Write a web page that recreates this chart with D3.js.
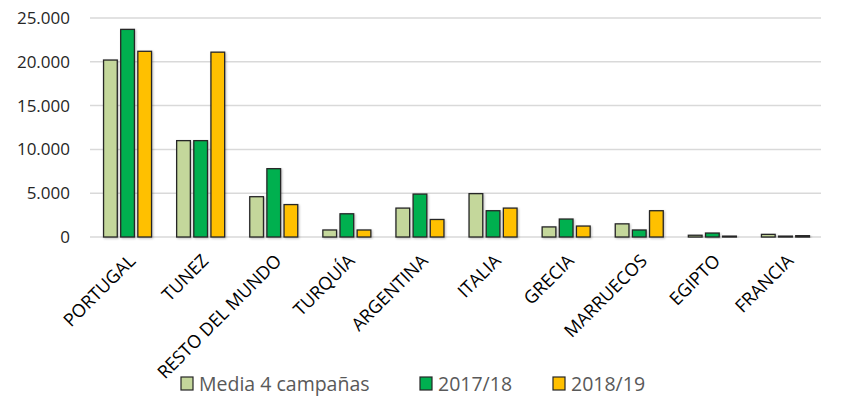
<!DOCTYPE html>
<html>
<head>
<meta charset="utf-8">
<script src="https://cdn.jsdelivr.net/npm/d3@7"></script>
<style>
  body { margin: 0; background: #fff; }
  text { font-family: "Open Sans", sans-serif; }
</style>
</head>
<body>
<script>
// data
var paises = ["PORTUGAL", "TUNEZ", "RESTO DEL MUNDO", "TURQUÍA", "ARGENTINA",
              "ITALIA", "GRECIA", "MARRUECOS", "EGIPTO", "FRANCIA"];
var media4 = [20200, 11000, 4600, 800, 3300, 4950, 1150, 1500, 200, 300];
var c1718  = [23700, 11000, 7800, 2650, 4900, 3000, 2050, 800, 450, 100];
var c1819  = [21200, 21100, 3700, 800, 2000, 3300, 1250, 3000, 100, 150];
var series = ["Media 4 campañas", "2017/18", "2018/19"];
var colores = ["#c4d79b", "#00b050", "#ffc000"];
var yTicks = [0, 5000, 10000, 15000, 20000, 25000];

var width = 847, height = 404;
var margin = {top: 18, right: 26, bottom: 167, left: 90};

var svg = d3.select("body").append("svg")
    .attr("width", width)
    .attr("height", height);

// soft shadow for the bars
var defs = svg.append("defs");
var f = defs.append("filter").attr("id", "sombra")
    .attr("x", "-20%").attr("y", "-20%").attr("width", "150%").attr("height", "150%");
f.append("feDropShadow").attr("dx", 1).attr("dy", 1).attr("stdDeviation", 0.8)
    .attr("flood-color", "#000").attr("flood-opacity", 0.25);

var g = svg.append("g")
    .attr("transform", "translate(" + margin.left + "," + margin.top + ")");

var w = width - margin.left - margin.right,
    h = height - margin.top - margin.bottom;

var x = d3.scaleBand().domain(paises).range([0, w]).paddingInner(0).paddingOuter(0);
var xs = d3.scaleBand().domain(series).range([x.bandwidth() / 2 - 23, x.bandwidth() / 2 + 25]).paddingInner(0.2);
var y = d3.scaleLinear().domain([0, 25000]).range([h, 0]);

// gridlines
g.selectAll(".grid").data(yTicks).enter().append("line")
    .attr("x1", 0).attr("x2", w)
    .attr("y1", function(d) { return y(d); })
    .attr("y2", function(d) { return y(d); })
    .attr("stroke", "#d9d9d9").attr("stroke-width", 1.5);

// y axis labels
var yAxis = d3.axisLeft(y).tickValues(yTicks).tickSize(0).tickPadding(20)
    .tickFormat(function(d) { return d3.format(",")(d).replace(/,/g, "."); });
g.append("g").call(yAxis)
    .call(function(s) { s.select(".domain").remove(); })
    .selectAll("text")
    .attr("font-family", "'Open Sans', sans-serif")
    .attr("font-size", 17)
    .attr("fill", "#262626");

// bars
var filas = paises.map(function(p, i) {
  return {pais: p, vals: [media4[i], c1718[i], c1819[i]]};
});
var grupos = g.selectAll(".grupo").data(filas).enter().append("g")
    .attr("transform", function(d) { return "translate(" + x(d.pais) + ",0)"; });
grupos.selectAll("rect").data(function(d) {
    return d.vals.map(function(v, j) { return {s: series[j], v: v, j: j}; });
  }).enter().append("rect")
    .attr("x", function(d) { return xs(d.s); })
    .attr("width", xs.bandwidth())
    .attr("y", function(d) { return y(d.v); })
    .attr("height", function(d) { return h - y(d.v); })
    .attr("fill", function(d) { return colores[d.j]; })
    .attr("stroke", "#262626").attr("stroke-width", 1.3)
    .attr("filter", "url(#sombra)");

// x labels
var xAxis = d3.axisBottom(x).tickSize(0).tickPadding(0);
g.append("g").attr("transform", "translate(0," + h + ")").call(xAxis)
    .call(function(s) { s.select(".domain").remove(); })
    .selectAll("text")
    .attr("font-family", "'Open Sans', sans-serif")
    .attr("font-size", 18)
    .attr("fill", "#000")
    .attr("text-anchor", "end")
    .attr("dy", 0)
    .attr("transform", "translate(10,25) rotate(-45)");

// legend
var leg = svg.append("g").attr("transform", "translate(0,384)");
var items = leg.selectAll(".item").data(series).enter().append("g");
var offs = [181, 420, 553];
items.attr("transform", function(d, i) { return "translate(" + offs[i] + ",0)"; });
items.append("rect")
    .attr("x", 0).attr("y", -7).attr("width", 12).attr("height", 13)
    .attr("fill", function(d, i) { return colores[i]; })
    .attr("stroke", "#262626").attr("stroke-width", 1.2);
items.append("text")
    .attr("x", 18).attr("y", 7)
    .attr("font-size", 19.5)
    .attr("fill", "#595959")
    .text(function(d) { return d; });
</script>
</body>
</html>
